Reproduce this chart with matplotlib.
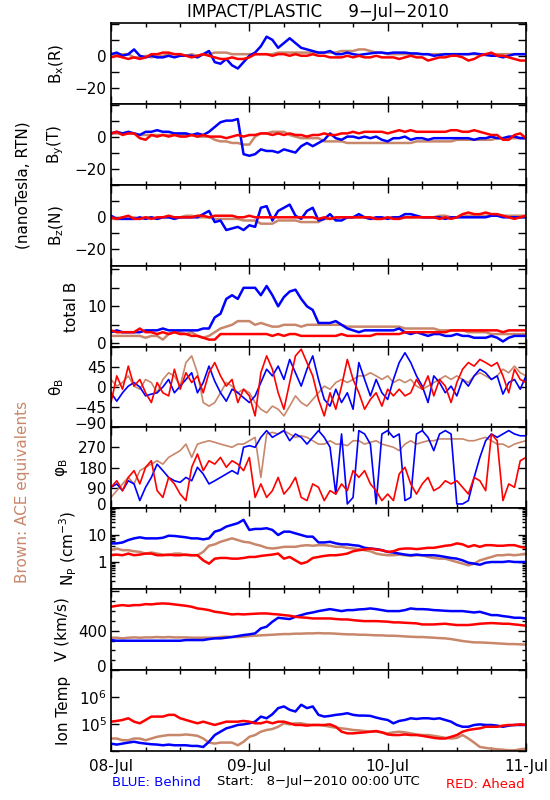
import numpy as np
import matplotlib
matplotlib.use("Agg")
import matplotlib.pyplot as plt
import matplotlib.transforms as mtransforms
from matplotlib.ticker import FixedLocator, LogLocator, NullFormatter, MultipleLocator

plt.rcParams['font.family'] = ['DejaVu Sans']
plt.rcParams['mathtext.default'] = 'regular'

# hours since 2010-07-08 00:00 UTC
hours = list(range(73))
day_labels = ['08-Jul', '09-Jul', '10-Jul', '11-Jul']

# ---------------- Bx (R) nT ----------------
bx_behind = [1, 2, 0, 1, 4, 0, -1,
             0, -1, -1, 0, -1, 0,
             0, 0, -1, 1, 3,
             -4, -5, -2, -6, -8, -4,
             0, 2, 6, 12, 10, 5, 8,
             11, 8, 5, 4, 3, 2,
             2, 3, 1, 1, 2, 1, 0.5, 1, 1.5, 2, 2, 1.5,
             2, 2, 2, 1.5, 1.5, 1, 1, 0, 0.5, 1, 1, 1,
             1, 1, 1.5, 1, 0.5, 0, 0, -1, 0, 1, 1, 1]
bx_ahead = [-1, 0, -1, -2, -1, -2, -1, 1, 1, 2, 2, 1,
            1, 0, -1, 0, 1, 0, -1, -2, -2, -1, -2, -2,
            -1, 1, 1, 1, 0, 1, 1, 0, 1, 0, 0, 1,
            0, 0, -1, -1, -1, 0, -1, 0, -1, -1, 0, -1,
            -1, -1, -2, -1, 0, -1, -1, -3, -2, -1, -1, 0,
            0, -1, -3, -2, 0, 1, 2, 0, 0, -1, -2, -3, -3]
bx_ace = [1, 1, 1, 1, -1, -1, 0, -1, 0, 0, 1, 1,
          1, 0, 1, 0, 1, 1, 2, 2, 2, 1, 1, 1,
          1, 1, 1, 1, 1, 2, 2, 2, 2, 2, 2, 2,
          2, 2, 2, 2, 3, 3, 3, 4, 4, 3, 2, 2,
          1, 1, 1, 1, 1, 1, 1, 1, 1, 1, 1, 1,
          1, 1, 1, 1, 1, 1, 1, 1, 1, 1, 1, 1, 1]

# ---------------- By (T) nT ----------------
by_behind = [2, 3, 2, 3, 2, 1, 3, 3, 4, 3, 3, 2,
             2, 2, 1, 2, 1, 3, 6, 9, 10, 10, 11, -11,
             -12, -11, -8, -9, -9, -10, -8, -9, -10, -6, -4, -6,
             -4, -2, 2, -1, -2, 0, 0, -1, 0, -1, 0, -2,
             -3, -1, -1, 0, -2, -1, -1, -2, -1, -1, -1, -1,
             -1, -1, -1, -2, -1, -1, 0, -1, -1, 0, 0, -1, -1]
by_ahead = [2, 3, 1, 2, 2, -1, -2, 1, 0, 1, 0, 1,
            0, 0, 1, 0, 1, 0, 0, 0, -1, 0, 1, 0,
            1, 1, 2, 2, 1, 2, 1, 2, 1, 1, 0, 1,
            1, 2, 1, 1, 2, 2, 3, 2, 3, 3, 3, 3,
            2, 3, 4, 3, 4, 3, 3, 3, 3, 3, 3, 4,
            4, 3, 3, 4, 3, 2, 1, 1, -2, -2, 1, 2, -1]
by_ace = [2, 2, 2, 2, 2, 1, 1, 1, 1, 1, 1, 1,
          1, 1, 1, 0, 0, 0, -2, -3, -3, -4, -4, -5,
          -5, 0, 2, 2, 3, 3, 3, 1, 0, -1, -1, -1,
          -1, -3, -3, -3, -3, -4, -4, -4, -4, -4, -4, -4,
          -4, -4, -4, -4, -4, -3, -3, -3, -3, -3, -3, -3,
          -2, -2, -2, -2, -2, -2, -2, -1, -1, -1, -1, -1, -1]

# ---------------- Bz (N) nT ----------------
bz_behind = [1, -1, -1, -1, -1, 0, -1, 0, -1, 0, 0, -1,
             0, 0, 0, 0, 2, 4, -3, -2, -8, -7, -6, -8,
             -5, -6, 6, 7, -2, 4, 6, 8, 1, -1, 4, 6,
             -2, -1, 2, -2, -2, 0, 0, 2, 0, -1, 0, 0,
             -1, 0, 0, 2, 2, 1, 0, 0, 0, 0, -1, 0,
             0, 0, 0, 0, 0, 0, 1, 1, 0, 0, 0, 0, 0]
bz_ahead = [0, -1, 0, 1, -1, -1, 0, -1, 0, 0, 1, 0,
            0, 0, 0, 1, 1, 0, 1, 1, 1, 1, 0, 0,
            1, 0, 0, 0, 0, 0, 0, 0, 0, 0, 0, 0,
            -1, 0, -1, 0, 0, 0, 0, 0, 0, 0, -1, -1,
            0, -1, -1, 0, 0, 0, 0, 0, 0, -1, 0, -1,
            0, 2, 3, 2, 2, 3, 2, 2, 1, 0, -1, 0, 1]
bz_ace = [-1, -1, 0, -1, 0, -1, 0, 0, -1, 0, 0, 0,
          0, 1, 1, 0, 0, 0, -1, -1, -1, -1, -1, -2,
          -2, -2, -4, -4, -4, -2, -2, -2, -2, -3, -3, -3,
          -3, -1, -1, -1, 0, 0, 0, 0, 0, -1, -1, -1,
          0, 0, 0, 0, 0, 0, 0, 0, 0, 1, 1, 0,
          0, 1, 1, 1, 1, 1, 1, 1, 1, 1, 1, 1, 1]

# ---------------- total B nT ----------------
bt_behind = [3, 3.5, 3, 3, 3, 3, 3.5, 3.5, 3.5, 4, 3.5, 3.5,
             3.5, 3.5, 3.5, 3.5, 4, 4, 7, 8, 12, 13, 12, 15,
             15, 15, 13, 15.5, 13, 10, 12.5, 14, 14.5, 12, 10, 9,
             5.5, 5.5, 5.5, 6, 5, 4, 3.5, 3, 3.5, 3.5, 3.5, 3.5,
             3.5, 3.5, 4, 3, 2.5, 3, 2.5, 2, 2.5, 2.5, 2, 2,
             2.5, 2, 2, 1.5, 1.5, 1.5, 2, 1.5, 0.5, 1.5, 2, 2, 2]
bt_ahead = [3.5, 3, 3, 3, 3, 4, 3, 3, 2.5, 3, 2.5, 3,
            2.5, 2.5, 2, 2, 1.5, 1, 1, 2.5, 2.5, 2.5, 2.5, 2.5,
            2.5, 2.5, 2.5, 2.5, 2, 2.5, 2, 2.5, 2.5, 2, 2, 2,
            2, 2, 2, 2, 2.5, 2, 2, 2, 2, 2, 2.5, 2.5,
            2.5, 2.5, 2.5, 3, 3, 3, 3, 3, 3, 3, 3, 3.5,
            3.5, 3.5, 3.5, 3.5, 3.5, 3.5, 3.5, 3.5, 3, 3.5, 3.5, 3.5, 3.5]
bt_ace = [2, 2, 2, 2, 2, 2, 1.5, 2, 2, 1, 2.5, 3,
          3, 2.5, 3, 2, 1.5, 2, 3, 4, 4.5, 5, 6, 6,
          6, 5, 5.5, 5, 4.5, 4.5, 5, 5, 5, 4.5, 5, 5,
          5, 5, 5, 5, 5, 4.5, 4.5, 4.5, 4.5, 4.5, 4.5, 4.5,
          4.5, 4.5, 4.5, 4, 4, 4, 4, 4, 4, 3.5, 3.5, 3.5,
          3.5, 3.5, 3, 3, 3, 3, 2.5, 2.5, 2.5, 2.5, 2.5, 2.5, 2.5]

# ---------------- theta_B deg ----------------
th_behind = [-13, -32, -13, 2, 10, 0, -20, -16, -13, 0, 17, -13,
             2, 17, 32, -13, 10, 47, 13, -13, -32, -5, -13, -24,
             -35, -20, 10, 40, 25, 47, 17, 62, 32, 2, 40, 70,
             17, -28, -43, -5, -35, -13, -50, 55, 17, -20, 17, -13,
             -28, 17, 55, 77, 55, 25, 2, -35, 25, 10, -13, 2,
             -20, 17, 2, 25, 40, 32, 17, 25, -16, 10, 17, -5, 25]
th_ahead = [-35, 25, -5, 47, 2, 17, -13, -35, 10, -13, -20, 40,
            -5, 32, 10, 25, -13, 32, 55, 25, 2, 17, -35, -5,
            -20, -65, 32, 70, 40, -13, -50, 10, 70, 85, 55, 25,
            -28, -65, -13, -50, 2, 62, 17, -13, -50, -28, -13, -43,
            -5, -20, -5, -20, -13, 17, -5, 25, -20, 17, 2, -35,
            10, 40, 55, 47, 62, 55, 47, 55, 25, -13, 40, 17, 10]
th_ace = [17, 2, 10, 25, 2, -5, 17, 10, -13, 17, 32, 25,
          2, 55, 70, 32, -35, -43, -35, -13, 10, 2, -13, -5,
          -13, -35, -50, -58, -43, -50, -65, -43, -20, -35, -43, -28,
          -13, 2, -5, 10, 17, 10, 17, 25, 25, 32, 25, 17,
          25, 10, 17, 10, 17, 2, -5, 2, 10, 17, 25, 17,
          25, 17, 10, 25, 32, 25, 17, 25, 40, 32, 47, 32, 25]

# ---------------- phi_B deg ----------------
ph_behind = [92, 107, 77, 121, 107, 33, 92, 136, 195, 166, 136, 121,
             114, 136, 121, 181, 151, 107, 121, 136, 151, 166, 151, 270,
             277, 270, 314, 344, 314, 329, 344, 299, 329, 314, 284, 314,
             344, 314, 270, 62, 329, 18, 47, 344, 329, 284, 18, 329,
             344, 314, 329, 33, 47, 329, 344, 314, 255, 329, 344, 329,
             18, 18, 33, 136, 225, 299, 329, 314, 329, 344, 329, 321, 321]
ph_ahead = [92, 121, 77, 136, 166, 107, 181, 210, 77, 47, 136, 107,
            62, 33, 181, 240, 166, 210, 195, 225, 181, 210, 195, 166,
            225, 47, 107, 47, 77, 136, 62, 92, 136, 47, 33, 107,
            92, 33, 77, 62, 107, 77, 166, 136, 166, 107, 77, 33,
            62, 33, 151, 181, 107, 62, 107, 136, 77, 92, 121, 107,
            121, 92, 62, 136, 121, 77, 329, 299, 33, 107, 92, 210, 225]
ph_ace = [47, 77, 107, 136, 107, 166, 181, 195, 210, 195, 225, 240,
          255, 284, 225, 284, 292, 299, 292, 284, 277, 270, 284, 284,
          299, 314, 136, 329, 336, 329, 344, 329, 314, 321, 314, 299,
          284, 284, 299, 284, 284, 277, 299, 299, 284, 292, 299, 284,
          277, 270, 255, 284, 299, 284, 292, 299, 299, 307, 307, 307,
          307, 307, 299, 299, 307, 314, 299, 284, 284, 270, 284, 292, 299]

# ---------------- Np cm^-3 ----------------
np_behind = [4.9, 4.9, 5.3, 6.5, 7.5, 8.2, 7.5, 7.5, 7.5, 7.9, 9.4, 9.2,
             8.7, 8.2, 7.5, 7.5, 6.9, 7.5, 13.3, 15.4, 20.5, 23.7, 27.4, 36.5,
             15.4, 16.8, 16.8, 17.8, 15.4, 10, 13.3, 13.3, 11.5, 10, 8.7, 8.7,
             5.3, 5.3, 5.6, 4.9, 4.5, 4.5, 4.2, 4.0, 3.35, 3.16, 3.0, 2.74,
             2.37, 2.24, 2.05, 1.88, 1.78, 1.88, 1.78, 1.78, 1.78, 1.68, 1.54, 1.41,
             1.33, 1.15, 0.94, 0.87, 0.79, 0.94, 1.0, 1.0, 1.0, 1.06, 1.0, 1.0, 1.0]
np_ahead = [1.78, 1.88, 1.78, 2.05, 1.78, 1.88, 2.05, 2.05, 1.78, 1.78, 1.88, 1.78,
            1.78, 1.88, 1.78, 1.78, 1.15, 0.87, 1.33, 1.41, 1.41, 1.33, 1.33, 1.41,
            1.54, 1.54, 1.68, 1.78, 1.88, 2.05, 1.33, 1.54, 1.15, 0.87, 1.0, 1.41,
            1.54, 1.68, 1.78, 1.78, 1.88, 2.05, 2.5, 2.74, 2.9, 3.16, 2.9, 2.74,
            2.37, 2.5, 3.0, 3.16, 3.16, 3.0, 3.16, 3.35, 3.35, 3.65, 4.0, 4.2,
            4.9, 4.5, 3.65, 4.2, 3.65, 4.2, 4.2, 4.0, 4.0, 4.2, 4.2, 3.65, 3.35]
np_ace = [2.74, 3.16, 2.74, 2.74, 2.5, 2.37, 2.05, 2.24, 2.05, 1.88, 1.78, 2.05,
          2.05, 1.78, 1.78, 1.78, 2.37, 4.0, 4.5, 5.6, 6.5, 7.5, 6.5, 5.6,
          5.3, 4.5, 4.0, 3.35, 3.16, 3.35, 3.65, 3.65, 3.65, 4.0, 4.2, 4.0,
          4.2, 4.2, 4.0, 3.65, 3.65, 3.35, 3.16, 3.0, 2.74, 2.5, 2.05, 1.88,
          1.78, 1.78, 1.88, 1.78, 1.68, 1.78, 1.78, 1.54, 1.41, 1.33, 1.33, 1.15,
          1.0, 0.87, 0.75, 0.87, 1.15, 1.33, 1.54, 1.78, 1.78, 1.88, 1.78, 1.88, 2.05]

# ---------------- V km/s ----------------
v_behind = [305, 298, 298, 298, 298, 298, 298, 298, 298, 298, 298, 298,
            298, 305, 305, 305, 305, 315, 322, 322, 329, 336, 346, 356,
            363, 373, 424, 441, 492, 532, 525, 519, 542, 559, 576, 586,
            600, 610, 620, 610, 600, 610, 610, 617, 620, 627, 620, 610,
            600, 600, 600, 610, 627, 620, 620, 617, 610, 607, 603, 600,
            600, 600, 593, 586, 593, 576, 559, 559, 549, 542, 532, 532, 525]
v_ahead = [644, 654, 661, 654, 661, 661, 671, 668, 675, 678, 675, 668,
           661, 654, 644, 627, 620, 610, 593, 586, 576, 566, 570, 566,
           570, 573, 576, 576, 570, 566, 559, 553, 542, 536, 532, 525,
           525, 525, 525, 519, 515, 515, 508, 502, 498, 498, 498, 495,
           492, 485, 485, 481, 478, 475, 464, 464, 464, 468, 471, 464,
           458, 458, 458, 464, 471, 475, 478, 475, 471, 471, 464, 458, 451]
v_ace = [329, 329, 322, 329, 332, 329, 332, 332, 336, 332, 336, 332,
         332, 332, 329, 329, 329, 329, 329, 336, 339, 336, 336, 339,
         346, 349, 353, 356, 359, 363, 366, 366, 370, 370, 373, 373,
         376, 373, 373, 370, 366, 363, 363, 359, 359, 356, 353, 353,
         349, 349, 346, 342, 339, 336, 336, 332, 329, 325, 322, 315,
         305, 295, 288, 281, 281, 278, 275, 271, 268, 264, 264, 261, 258]

# ---------------- Ion temperature K ----------------
t_behind = [1.88e4, 1.73e4, 1.88e4, 2.05e4, 2.2e4, 2.0e4, 1.88e4, 1.78e4, 1.73e4, 1.63e4, 1.73e4, 1.63e4,
            1.63e4, 1.63e4, 1.54e4, 1.54e4, 1.41e4, 2.2e4, 3.9e4, 5.2e4, 6.9e4, 7.9e4, 9.2e4, 9.7e4,
            1.06e5, 1.22e5, 1.88e5, 1.63e5, 2.3e5, 3.87e5, 4.47e5, 3.35e5, 2.9e5, 5.16e5, 3.87e5, 4.47e5,
            2.18e5, 1.88e5, 2.0e5, 2.18e5, 2.3e5, 2.51e5, 2.18e5, 2.05e5, 2.05e5, 2.0e5, 1.73e5, 1.54e5,
            1.41e5, 1.06e5, 1.30e5, 1.41e5, 1.63e5, 1.54e5, 1.63e5, 1.63e5, 1.54e5, 1.63e5, 1.41e5, 1.22e5,
            9.2e4, 7.9e4, 7.9e4, 9.2e4, 9.7e4, 9.2e4, 9.2e4, 8.7e4, 7.9e4, 8.7e4, 9.2e4, 9.2e4, 9.2e4]
t_ahead = [1.22e5, 1.30e5, 1.41e5, 1.63e5, 1.22e5, 1.06e5, 1.41e5, 1.88e5, 1.88e5, 1.88e5, 2.18e5, 2.18e5,
           1.63e5, 1.41e5, 1.22e5, 1.06e5, 1.22e5, 1.06e5, 9.2e4, 1.06e5, 1.22e5, 1.22e5, 1.22e5, 1.30e5,
           1.22e5, 1.06e5, 1.06e5, 1.22e5, 1.06e5, 1.22e5, 1.22e5, 1.06e5, 9.2e4, 9.2e4, 8.7e4, 9.2e4,
           9.2e4, 9.2e4, 9.7e4, 7.9e4, 5.2e4, 4.5e4, 4.5e4, 4.7e4, 4.9e4, 5.2e4, 5.5e4, 4.9e4,
           4.1e4, 3.9e4, 3.9e4, 4.1e4, 3.9e4, 3.9e4, 3.65e4, 3.35e4, 3.07e4, 2.9e4, 2.9e4, 3.35e4,
           3.9e4, 5.2e4, 6.0e4, 6.5e4, 6.9e4, 7.9e4, 7.9e4, 7.9e4, 8.7e4, 9.2e4, 9.2e4, 9.7e4, 9.2e4]
t_ace = [2.9e4, 2.9e4, 2.5e4, 2.5e4, 2.9e4, 2.9e4, 2.5e4, 2.9e4, 3.35e4, 3.65e4, 3.9e4, 3.9e4,
         3.9e4, 4.1e4, 3.9e4, 3.65e4, 2.9e4, 2.05e4, 1.88e4, 2.05e4, 2.05e4, 2.05e4, 1.63e4, 2.2e4,
         3.35e4, 3.9e4, 5.2e4, 6.0e4, 6.5e4, 7.9e4, 1.06e5, 9.7e4, 1.06e5, 1.06e5, 9.7e4, 9.2e4,
         9.2e4, 8.7e4, 7.9e4, 7.3e4, 6.9e4, 6.5e4, 6.0e4, 5.8e4, 5.5e4, 5.2e4, 5.2e4, 4.9e4,
         4.5e4, 4.9e4, 5.2e4, 4.9e4, 4.5e4, 4.1e4, 3.9e4, 3.9e4, 3.65e4, 3.35e4, 3.07e4, 2.9e4,
         3.07e4, 3.9e4, 2.9e4, 2.05e4, 1.41e4, 1.30e4, 1.22e4, 1.16e4, 1.12e4, 1.06e4, 1.06e4, 1.16e4, 1.22e4]

BLUE = '#0000ff'
RED = '#ff0000'
BROWN = '#c8876b'

W, H = 550, 800
fig = plt.figure(figsize=(W / 100, H / 100), dpi=100)

edges = [23, 104, 185, 266, 347, 427, 508, 589, 670, 751]
x0, x1 = 111, 526

panels = [
    dict(series=(bx_ace, bx_behind, bx_ahead), ylim=(-30.3, 20.6), ticks=[-20, -10, 0, 10, 20],
         labels={-20: '\u221220', 0: '0'}, ylabel='B$_x$(R)', lw=1.8),
    dict(series=(by_ace, by_behind, by_ahead), ylim=(-30.3, 20.4), ticks=[-20, -10, 0, 10, 20],
         labels={-20: '\u221220', 0: '0'}, ylabel='B$_y$(T)', lw=1.8),
    dict(series=(bz_ace, bz_behind, bz_ahead), ylim=(-30.6, 20.3), ticks=[-20, -10, 0, 10, 20],
         labels={-20: '\u221220', 0: '0'}, ylabel='B$_z$(N)', lw=1.8),
    dict(series=(bt_ace, bt_behind, bt_ahead), ylim=(-1, 20.9), ticks=[0, 5, 10, 15, 20],
         labels={0: '0', 10: '10'}, ylabel='total B', lw=1.8),
    dict(series=(th_ace, th_behind, th_ahead), ylim=(-90, 90), ticks=[-90, -45, 0, 45, 90],
         labels={-90: '\u221290', -45: '\u221245', 0: '0', 45: '45'}, ylabel='\u03b8$_B$', lw=1.2,
         lift=[-90]),
    dict(series=(ph_ace, ph_behind, ph_ahead), ylim=(0, 360), ticks=[0, 90, 180, 270, 360],
         labels={0: '0', 90: '90', 180: '180', 270: '270'}, ylabel='\u03c6$_B$', lw=1.2,
         lift=[0]),
    dict(series=(np_ace, np_behind, np_ahead), ylim=(0.1, 100), log=True,
         labels={1: '1', 10: '10'}, ylabel='N$_P$ (cm$^{-3}$)', lw=1.8),
    dict(series=(v_ace, v_behind, v_ahead), ylim=(0, 825), ticks=[0, 400, 800],
         labels={0: '0', 400: '400'}, ylabel='V (km/s)', lw=1.8, minor=100, lift=[0]),
    dict(series=(t_ace, t_behind, t_ahead), ylim=(1e4, 1e7), log=True,
         labels={1e5: '10$^5$', 1e6: '10$^6$'}, ylabel='Ion Temp', lw=1.8),
]

t = np.array(hours, dtype=float)
lift_tr = mtransforms.ScaledTranslation(0, 4 / 100, fig.dpi_scale_trans)
for i, p in enumerate(panels):
    top, bot = edges[i], edges[i + 1]
    ax = fig.add_axes([x0 / W, 1 - bot / H, (x1 - x0) / W, (bot - top) / H])
    ace, beh, ahd = p['series']
    ax.plot(t, ace, color=BROWN, lw=p['lw'])
    ax.plot(t, beh, color=BLUE, lw=p['lw'])
    ax.plot(t, ahd, color=RED, lw=p['lw'])
    ax.set_xlim(0, 72)
    if p.get('log'):
        ax.set_yscale('log')
        ax.set_ylim(*p['ylim'])
        lo, hi = np.log10(p['ylim'])
        decs = [10.0 ** k for k in range(int(round(lo)), int(round(hi)) + 1)]
        ax.yaxis.set_major_locator(FixedLocator(decs))
        ax.set_yticklabels([p['labels'].get(d, '') for d in decs])
        ax.yaxis.set_minor_locator(LogLocator(base=10, subs=np.arange(2, 10)))
        ax.yaxis.set_minor_formatter(NullFormatter())
    else:
        ax.set_ylim(*p['ylim'])
        ax.set_yticks(p['ticks'])
        ax.set_yticklabels([p['labels'].get(v, '') for v in p['ticks']])
        if p.get('minor'):
            ax.yaxis.set_minor_locator(MultipleLocator(p['minor']))
    ax.xaxis.set_major_locator(FixedLocator([0, 24, 48, 72]))
    ax.xaxis.set_minor_locator(MultipleLocator(6))
    ax.tick_params(which='both', direction='in', top=True, right=True, width=1)
    ax.tick_params(which='major', length=6, labelsize=11, pad=3)
    ax.tick_params(which='minor', length=3)
    for s in ax.spines.values():
        s.set_linewidth(1.2)
    ax.set_ylabel(p['ylabel'], fontsize=11, labelpad=6)
    if 'lift' in p:
        ticks_now = list(ax.get_yticks())
        for lab, val in zip(ax.get_yticklabels(), ticks_now):
            if val in p['lift']:
                lab.set_transform(lab.get_transform() + lift_tr)
    if i < len(panels) - 1:
        ax.set_xticklabels([])
    else:
        ax.set_xticklabels(day_labels)
        ax.tick_params(axis='x', which='major', pad=6)

fig.text(318 / W, 1 - 12 / H, 'IMPACT/PLASTIC     9\u2212Jul\u22122010', ha='center', va='center', fontsize=12)
fig.text(23 / W, 1 - 185 / H, '(nanoTesla, RTN)', rotation=90, ha='center', va='center', fontsize=11)
fig.text(23 / W, 1 - 492 / H, 'Brown: ACE equivalents', rotation=90, ha='center', va='center',
         fontsize=11, color=BROWN)
fig.text(112 / W, 1 - 783 / H, 'BLUE: Behind', ha='left', va='center', fontsize=9.5, color=BLUE)
fig.text(318 / W, 1 - 782 / H, 'Start:   8\u2212Jul\u22122010 00:00 UTC', ha='center', va='center', fontsize=9.5)
fig.text(525 / W, 1 - 784 / H, 'RED: Ahead', ha='right', va='center', fontsize=9.5, color=RED)

fig.savefig('out.png', dpi=100)
